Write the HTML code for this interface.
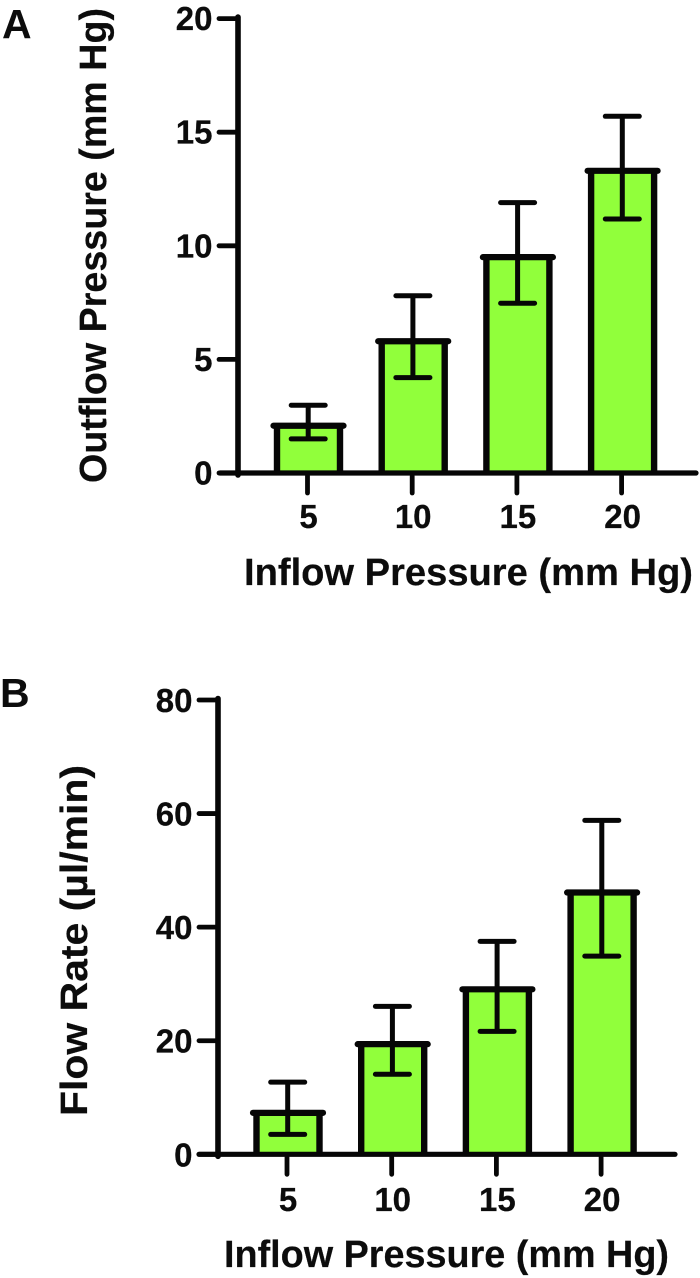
<!DOCTYPE html>
<html lang="en">
<head>
<meta charset="utf-8">
<title>Outflow pressure and flow rate vs inflow pressure</title>
<style>
html,body{margin:0;padding:0;background:#fff;}
svg{display:block;position:absolute;left:0;top:0;}
text{font-family:"Liberation Sans",sans-serif;font-weight:bold;fill:#0c0c0c;}
.tick{font-size:33px;stroke:#0c0c0c;stroke-width:0.25px;}
.title{font-size:37.6px;stroke:#0c0c0c;stroke-width:0.2px;}
.panel{font-size:41px;}
</style>
</head>
<body>
<svg id="figure" width="700" height="1278" viewBox="0 0 700 1278" xmlns="http://www.w3.org/2000/svg">
  <text class="panel" x="2" y="38">A</text>
  <text class="panel" x="0" y="707">B</text>
  <text class="title" x="244" y="585" textLength="449" lengthAdjust="spacingAndGlyphs">Inflow Pressure (mm Hg)</text>
  <text class="title" transform="translate(106,483) rotate(-90)" textLength="475" lengthAdjust="spacingAndGlyphs">Outflow Pressure (mm Hg)</text>
  <text class="title" x="224" y="1267" textLength="445" lengthAdjust="spacingAndGlyphs">Inflow Pressure (mm Hg)</text>
  <text class="title" transform="translate(87,1116) rotate(-90)" textLength="351" lengthAdjust="spacingAndGlyphs">Flow Rate (µl/min)</text>
</svg>
<script>
const categories = ['5', '10', '15', '20'];

const outflowMeans = [2.08, 5.8, 9.5, 13.3];
const outflowUpper = [2.98, 7.8, 11.9, 15.7];
const outflowLower = [1.5, 4.2, 7.47, 11.18];
const outflowTicks = [0, 5, 10, 15, 20];

const flowMeans = [7.3, 19.4, 29.05, 46.1];
const flowUpper = [12.7, 26.05, 37.5, 58.8];
const flowLower = [3.5, 14.1, 21.65, 34.9];
const flowTicks = [0, 20, 40, 60, 80];

const svg = document.getElementById('figure');
const NS = 'http://www.w3.org/2000/svg';
const INK = '#060606';
const FILL = '#91ff3b';

function make(tag, attrs, name) {
  const el = document.createElementNS(NS, tag);
  for (const key in attrs) el.setAttribute(key, attrs[key]);
  
  
  svg.appendChild(el);
  return el;
}

function line(x1, y1, x2, y2, width, cap, name) {
  return make('line', {x1: x1, y1: y1, x2: x2, y2: y2, stroke: INK, 'stroke-width': width, 'stroke-linecap': cap}, name);
}

function drawPanel(p, means, upper, lower, ticks) {
  const maxTick = ticks[ticks.length - 1];
  const yScale = function (v) { return p.zeroY - (v / maxTick) * (p.zeroY - p.topY); };
  const xScale = function (i) { return p.firstX + i * p.step; };

  categories.forEach(function (cat, i) {
    const cx = xScale(i);
    const top = yScale(means[i]);
    make('rect', {x: cx - 31.5, y: top, width: 63, height: p.zeroY - top, fill: FILL, stroke: 'none'}, 'bar-' + p.id + '-' + cat);
    line(cx - 31.5, top, cx - 31.5, p.zeroY, 6.4, 'butt', 'bar-left-edge-' + p.id + '-' + cat);
    line(cx + 31.5, top, cx + 31.5, p.zeroY, 6.4, 'butt', 'bar-right-edge-' + p.id + '-' + cat);
    line(cx - 35, top, cx + 35, top, 6.2, 'round', 'bar-top-' + p.id + '-' + cat);
    const ex = cx - 0.3;
    const hi = yScale(upper[i]);
    const lo = yScale(lower[i]);
    line(ex, hi, ex, lo, 5, 'butt', 'error-stem-' + p.id + '-' + cat);
    line(ex - 17, hi, ex + 17, hi, 5, 'round', 'error-cap-upper-' + p.id + '-' + cat);
    line(ex - 17, lo, ex + 17, lo, 5, 'round', 'error-cap-lower-' + p.id + '-' + cat);

    const tx = cx - 1;
    line(tx, p.zeroY + 3, tx, p.zeroY + 20, 4.8, 'round', 'x-tick-' + p.id + '-' + cat);
    const label = make('text', {class: 'tick', x: tx + 1, y: p.xLabelY, 'text-anchor': 'middle'}, 'x-tick-label-' + p.id + '-' + cat);
    label.textContent = cat;
  });

  line(p.axisX, p.topY - 1.5, p.axisX, p.zeroY + 2, 5.6, 'round', 'y-axis-' + p.id);
  line(p.xStart, p.zeroY, p.xEnd, p.zeroY, 5.2, 'round', 'x-axis-' + p.id);

  ticks.forEach(function (t) {
    const y = yScale(t);
    line(p.axisX - 19, y, p.axisX, y, 4.8, 'round', 'y-tick-' + p.id + '-' + t);
    const label = make('text', {class: 'tick', x: p.axisX - 25.5, y: y + p.tickDy, 'text-anchor': 'end'}, 'y-tick-label-' + p.id + '-' + t);
    label.textContent = String(t);
  });
}

drawPanel({id: 'a', zeroY: 473, topY: 18.6, axisX: 238, xStart: 220, xEnd: 696, firstX: 308.5, step: 104.7, xLabelY: 528, tickDy: 11.5}, outflowMeans, outflowUpper, outflowLower, outflowTicks);
drawPanel({id: 'b', zeroY: 1154.3, topY: 700, axisX: 218, xStart: 199, xEnd: 675, firstX: 288, step: 104.7, xLabelY: 1211, tickDy: 12}, flowMeans, flowUpper, flowLower, flowTicks);
</script>
</body>
</html>
